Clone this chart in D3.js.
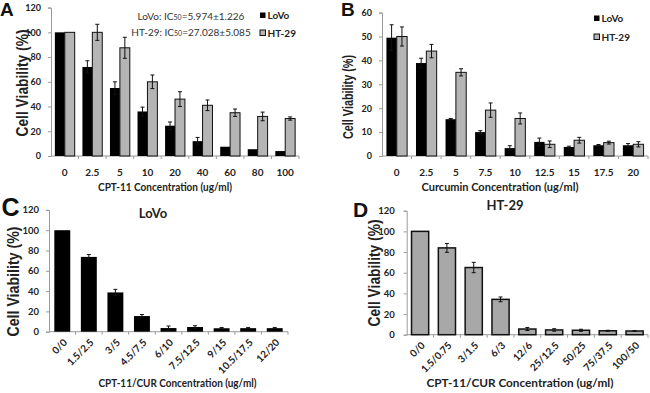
<!DOCTYPE html>
<html>
<head>
<meta charset="utf-8">
<script src="https://cdn.jsdelivr.net/npm/d3@7"></script>
<style>
  body { margin: 0; background: #fff; }
  svg { display: block; }
  .tick text { font-family: Lato, "Open Sans", sans-serif; font-weight: bold; fill: #222; }
</style>
</head>
<body>
<div id="chart"></div>
<script>
// panel A: CPT-11
const catsA = ["0", "2.5", "5", "10", "20", "40", "60", "80", "100"];
const lovoA = [100, 72, 55, 36, 24.5, 12, 7.5, 5.5, 4];
const lovoErrA = [0, 5, 5, 3.5, 3, 3, 0, 0, 0];
const htA = [100, 100, 87.5, 60, 46, 41, 35, 32, 30.3];
const htErrA = [0, 6.5, 8.5, 5.5, 6, 4.3, 3, 3.5, 1.3];
const ticksA = [0, 20, 40, 60, 80, 100, 120];

// panel B: curcumin
const catsB = ["0", "2.5", "5", "7.5", "10", "12.5", "15", "17.5", "20"];
const lovoB = [49.5, 38.9, 15.4, 10, 3.3, 5.9, 3.8, 4.5, 4.5];
const lovoErrB = [5.4, 2, 0.3, 0.6, 1, 1.6, 0.3, 0.3, 0.7];
const htB = [50, 43.9, 35, 19.2, 15.7, 4.9, 6.6, 5.6, 4.9];
const htErrB = [4, 2.8, 1.5, 3, 2.3, 1.4, 1.2, 0.6, 1.1];
const ticksB = [0, 10, 20, 30, 40, 50, 60];

// panel C: LoVo combination
const catsC = ["0/0", "1.5/2.5", "3/5", "4.5/7.5", "6/10", "7.5/12.5", "9/15", "10.5/17.5", "12/20"];
const valC = [100, 73.7, 38.7, 15.4, 3.6, 4.6, 3.4, 3.5, 3.5];
const errC = [0, 2.3, 3, 1.5, 2, 1.3, 0.7, 0.7, 0.7];

// panel D: HT-29 combination
const catsD = ["0/0", "1.5/0.75", "3/1.5", "6/3", "12/6", "25/12.5", "50/25", "75/37.5", "100/50"];
const valD = [100, 84, 65, 34.2, 5.5, 4.6, 4.3, 3.8, 3.6];
const errD = [0, 4.3, 5, 2.3, 1.5, 1.2, 1, 0.5, 0.3];
const ticksCD = [0, 20, 40, 60, 80, 100, 120];

const svg = d3.select("#chart").append("svg")
    .attr("width", 650)
    .attr("height", 393);

const FONT = "Lato, 'Open Sans', sans-serif";
const ARIAL = "'Liberation Sans', Arial, sans-serif";

function drawPanel(p) {
    let g = svg.append("g");

    let x = d3.scaleBand().domain(p.cats).range(p.xRange);
    let y = d3.scaleLinear().domain([0, p.yMax]).range(p.yRange);

    // y axis
    let yAxis = g.append("g")
        .attr("transform", `translate(${p.xRange[0]},0)`)
        .call(d3.axisLeft(y).tickValues(p.yTicks).tickSize(3).tickPadding(p.yPad || 7));
    yAxis.selectAll("text").style("font-size", p.yTickSize + "px");

    // x axis, ticks on band boundaries
    let xAxis = g.append("g")
        .attr("transform", `translate(0,${p.yRange[0]})`);
    xAxis.append("line")
        .attr("x1", p.xRange[0]).attr("x2", p.xRange[1])
        .attr("stroke", "#9a9a9a");
    xAxis.selectAll(".xt")
        .data(p.cats)
        .join("line")
        .attr("class", "xt")
        .attr("x1", d => x(d) + x.bandwidth()).attr("x2", d => x(d) + x.bandwidth())
        .attr("y1", 0).attr("y2", 3)
        .attr("stroke", "#9a9a9a");
    yAxis.select(".domain").attr("stroke", "#9a9a9a");
    yAxis.selectAll(".tick line").attr("stroke", "#9a9a9a");

    if (p.rotate) {
        xAxis.selectAll(".xl")
            .data(p.cats)
            .join("text")
            .attr("class", "xl")
            .attr("transform", d => `translate(${x(d) + x.bandwidth() / 2 + 3},${9}) rotate(-45)`)
            .attr("text-anchor", "end")
            .attr("dy", "0.35em")
            .style("font-family", FONT)
            .style("font-weight", "bold")
            .style("font-size", "10px")
            .attr("fill", "#222")
            .text(d => d);
    } else {
        xAxis.selectAll(".xl")
            .data(p.cats)
            .join("text")
            .attr("class", "xl")
            .attr("x", d => x(d) + x.bandwidth() / 2)
            .attr("y", 16)
            .attr("text-anchor", "middle")
            .attr("dy", "0.35em")
            .style("font-family", FONT)
            .style("font-weight", "bold")
            .style("font-size", "10px")
            .attr("fill", "#222")
            .text(d => d);
    }

    // bars
    let groupW = x.bandwidth() * p.groupFrac;
    let barW = groupW / p.series.length;
    p.series.forEach((s, si) => {
        let rows = p.cats.map((c, i) => ({cat: c, v: s.values[i], e: s.errors[i]}));
        let bx = d => x(d.cat) + (x.bandwidth() - groupW) / 2 + si * barW;

        g.selectAll(".bar" + si)
            .data(rows)
            .join("rect")
            .attr("x", bx)
            .attr("y", d => y(d.v))
            .attr("width", barW)
            .attr("height", d => y(0) - y(d.v))
            .attr("fill", s.fill)
            .attr("stroke", s.stroke)
            .attr("stroke-width", s.strokeW || 1);

        // error bars
        let errs = rows.filter(d => d.e > 0);
        let cx = d => bx(d) + barW / 2;
        g.selectAll(".err" + si)
            .data(errs)
            .join("path")
            .attr("d", d => {
                let t = y(d.v + d.e), b = y(d.v - d.e);
                return `M${cx(d)},${t}V${b}M${cx(d) - 2},${t}H${cx(d) + 2}M${cx(d) - 2},${b}H${cx(d) + 2}`;
            })
            .attr("stroke", "#111")
            .attr("stroke-width", 1)
            .attr("fill", "none");
    });

    // y label
    g.append("text")
        .attr("transform", `translate(${p.yLabel[0]},${p.yLabel[1]}) rotate(-90)`)
        .attr("text-anchor", "middle")
        .attr("dy", "0.35em")
        .attr("textLength", p.yLabel[2])
        .attr("lengthAdjust", "spacingAndGlyphs")
        .style("font-family", ARIAL)
        .style("font-weight", "bold")
        .style("font-size", p.yLabel[3] + "px")
        .attr("fill", "#222")
        .text("Cell Viability (%)");

    // x label
    g.append("text")
        .attr("x", p.xLabel[0])
        .attr("y", p.xLabel[1])
        .attr("text-anchor", "middle")
        .attr("dy", "0.35em")
        .attr("textLength", p.xLabel[2])
        .attr("lengthAdjust", "spacingAndGlyphs")
        .style("font-family", FONT)
        .style("font-weight", "bold")
        .style("font-size", "12px")
        .attr("fill", "#222")
        .text(p.xTitle);

    // panel letter
    g.append("text")
        .attr("x", p.letter[0])
        .attr("y", p.letter[1])
        .style("font-family", ARIAL)
        .style("font-weight", "bold")
        .style("font-size", p.letter[2] + "px")
        .attr("fill", "#111")
        .text(p.letterText);

    if (p.title) {
        g.append("text")
            .attr("x", p.title[0])
            .attr("y", p.title[1])
            .attr("text-anchor", "middle")
            .style("font-family", FONT)
            .style("font-weight", "bold")
            .style("font-size", "13px")
            .attr("fill", "#222")
            .text(p.titleText);
    }

    if (p.legend) {
        p.series.forEach((s, si) => {
            let ly = p.legend[1] + si * p.legend[2];
            g.append("rect")
                .attr("x", p.legend[0]).attr("y", ly - 3)
                .attr("width", 5.5).attr("height", 5.5)
                .attr("fill", s.fill)
                .attr("stroke", s.stroke || "none");
            g.append("text")
                .attr("x", p.legend[0] + 7.5).attr("y", ly)
                .attr("dy", "0.35em")
                .style("font-family", FONT)
                .style("font-weight", "bold")
                .style("font-size", "10px")
                .attr("fill", "#222")
                .text(s.name);
        });
    }
    return g;
}

const BLACK = {fill: "#000", stroke: "none"};
const GREY = {fill: "#b5b5b5", stroke: "#111"};

drawPanel({
    cats: catsA, xRange: [51, 299], yRange: [156, 7.6], yMax: 120, yTicks: ticksA, yTickSize: 9,
    groupFrac: 0.72,
    series: [
        Object.assign({name: "LoVo", values: lovoA, errors: lovoErrA}, BLACK),
        Object.assign({name: "HT-29", values: htA, errors: htErrA}, GREY)
    ],
    yLabel: [22.5, 83, 107, 16], xLabel: [165, 187, 134], xTitle: "CPT-11 Concentration  (ug/ml)",
    letter: [0, 15.5, 19], letterText: "A",
    legend: [260, 15.5, 17.5]
});

drawPanel({
    cats: catsB, xRange: [382, 648], yRange: [156, 12.6], yMax: 60, yTicks: ticksB, yTickSize: 9,
    groupFrac: 0.70,
    series: [
        Object.assign({name: "LoVo", values: lovoB, errors: lovoErrB}, BLACK),
        Object.assign({name: "HT-29", values: htB, errors: htErrB}, GREY)
    ],
    yLabel: [348, 97, 84, 15], xLabel: [500, 187, 157], xTitle: "Curcumin Concentration  (ug/ml)",
    letter: [341, 15.5, 19], letterText: "B",
    legend: [594, 18.5, 18.5]
});

drawPanel({
    cats: catsC, xRange: [49, 288], yRange: [331.7, 209.9], yMax: 120, yTicks: ticksCD, yTickSize: 9.5,
    groupFrac: 0.6, rotate: true,
    series: [Object.assign({name: "LoVo", values: valC, errors: errC}, BLACK)],
    yLabel: [13.5, 281.5, 110, 17], xLabel: [177.5, 383, 158], xTitle: "CPT-11/CUR Concentration  (ug/ml)",
    letter: [1.5, 215.5, 25], letterText: "C",
    title: [153, 218], titleText: "LoVo"
});

drawPanel({
    cats: catsD, xRange: [406.7, 648], yRange: [334.7, 210.7], yMax: 120, yTicks: ticksCD, yTickSize: 9.5,
    groupFrac: 0.64, rotate: true, yPad: 9,
    series: [Object.assign({name: "HT-29", values: valD, errors: errD}, {fill: "#a8a8a8", stroke: "#111", strokeW: 1.5})],
    yLabel: [374, 273, 107, 16], xLabel: [520, 383, 187], xTitle: "CPT-11/CUR Concentration  (ug/ml)",
    letter: [353, 216.5, 21], letterText: "D",
    title: [505, 210], titleText: "HT-29"
});

// IC50 notes in panel A
const notesA = [
    ["LoVo: IC", "50", "=5.974\u00b11.226"],
    ["HT-29: IC", "50", "=27.028\u00b15.085"]
];
notesA.forEach((n, i) => {
    let t = svg.append("text")
        .attr("x", 191)
        .attr("y", 16 + i * 16.5)
        .attr("dy", "0.35em")
        .attr("text-anchor", "middle")
        .style("font-family", FONT)
        .style("font-size", "10px")
        .attr("fill", "#333");
    t.append("tspan").text(n[0]);
    t.append("tspan").style("font-size", "7px").text(n[1]);
    t.append("tspan").text(n[2]);
});
</script>
</body>
</html>
